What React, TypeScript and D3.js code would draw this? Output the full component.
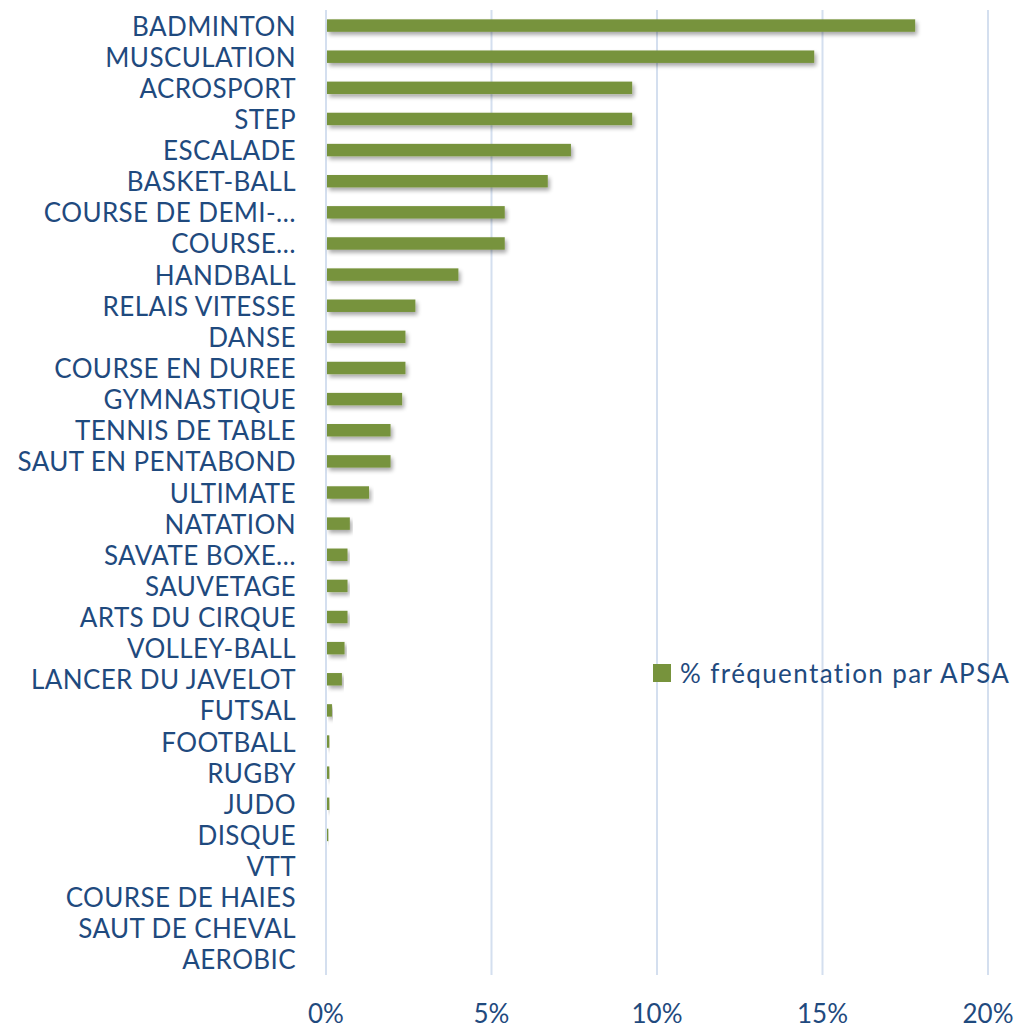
import React from "react";
import * as d3 from "d3";

const categories = [
  "BADMINTON", "MUSCULATION", "ACROSPORT", "STEP", "ESCALADE", "BASKET-BALL",
  "COURSE DE DEMI-…", "COURSE…", "HANDBALL", "RELAIS VITESSE", "DANSE",
  "COURSE EN DUREE", "GYMNASTIQUE", "TENNIS DE TABLE", "SAUT EN PENTABOND",
  "ULTIMATE", "NATATION", "SAVATE BOXE…", "SAUVETAGE", "ARTS DU CIRQUE",
  "VOLLEY-BALL", "LANCER DU JAVELOT", "FUTSAL", "FOOTBALL", "RUGBY", "JUDO",
  "DISQUE", "VTT", "COURSE DE HAIES", "SAUT DE CHEVAL", "AEROBIC",
];
const values = [
  17.8, 14.75, 9.25, 9.25, 7.4, 6.7, 5.4, 5.4, 4.0, 2.7, 2.4, 2.4, 2.3, 1.95,
  1.95, 1.3, 0.72, 0.65, 0.65, 0.65, 0.56, 0.48, 0.18, 0.1, 0.1, 0.1, 0.07,
  0, 0, 0, 0,
];
const xTicks = [0, 5, 10, 15, 20];
const legendLabel = "% fréquentation par APSA";

const W = 1019;
const H = 1028;
const textColor = "#1F4A7E";
const barColor = "#77933C";
const gridColor = "#D4DFEF";
const font = "Lato, 'Open Sans', sans-serif";

export default function App() {
  const x = d3.scaleLinear().domain([0, 20]).range([326, 988]);
  const y = d3
    .scaleBand<string>()
    .domain(categories)
    .range([10, 975])
    .paddingInner(0.6)
    .paddingOuter(0.3);
  const bw = y.bandwidth();

  return (
    <svg
      width={W}
      height={H}
      style={{ position: "absolute", left: 0, top: 0, background: "#fff" }}
    >
      <defs>
        <filter id="sh" x="-5%" y="-50%" width="115%" height="250%">
          <feGaussianBlur in="SourceAlpha" stdDeviation="2" />
          <feOffset dx="2" dy="3" result="b" />
          <feComponentTransfer>
            <feFuncA type="linear" slope="0.35" />
          </feComponentTransfer>
          <feMerge>
            <feMergeNode />
            <feMergeNode in="SourceGraphic" />
          </feMerge>
        </filter>
      </defs>
      {xTicks.map((t) => (
        <line
          key={t}
          x1={x(t)}
          x2={x(t)}
          y1={10}
          y2={975}
          stroke={gridColor}
          strokeWidth={2}
        />
      ))}
      {categories.map((c, i) => (
        <g key={c}>
          {values[i] > 0 && (
            <rect
              x={x(0) + 1}
              y={y(c) as number}
              width={Math.max(0, x(values[i]) - x(0) - 1)}
              height={bw}
              fill={barColor}
              filter="url(#sh)"
            />
          )}
          <text
            x={296}
            y={(y(c) as number) + bw / 2}
            textAnchor="end"
            dominantBaseline="central"
            fontFamily={font}
            fontSize={26}
            letterSpacing={0.4}
            fill={textColor}
          >
            {c}
          </text>
        </g>
      ))}
      {xTicks.map((t) => (
        <text
          key={"l" + t}
          x={x(t)}
          y={1013}
          textAnchor="middle"
          dominantBaseline="central"
          fontFamily={font}
          fontSize={26}
          fill={textColor}
        >
          {t + "%"}
        </text>
      ))}
      <rect x={653} y={664} width={18} height={18} fill={barColor} />
      <text
        x={680}
        y={673}
        dominantBaseline="central"
        fontFamily={font}
        fontSize={26}
        letterSpacing={1.4}
        fill={textColor}
      >
        {legendLabel}
      </text>
    </svg>
  );
}
